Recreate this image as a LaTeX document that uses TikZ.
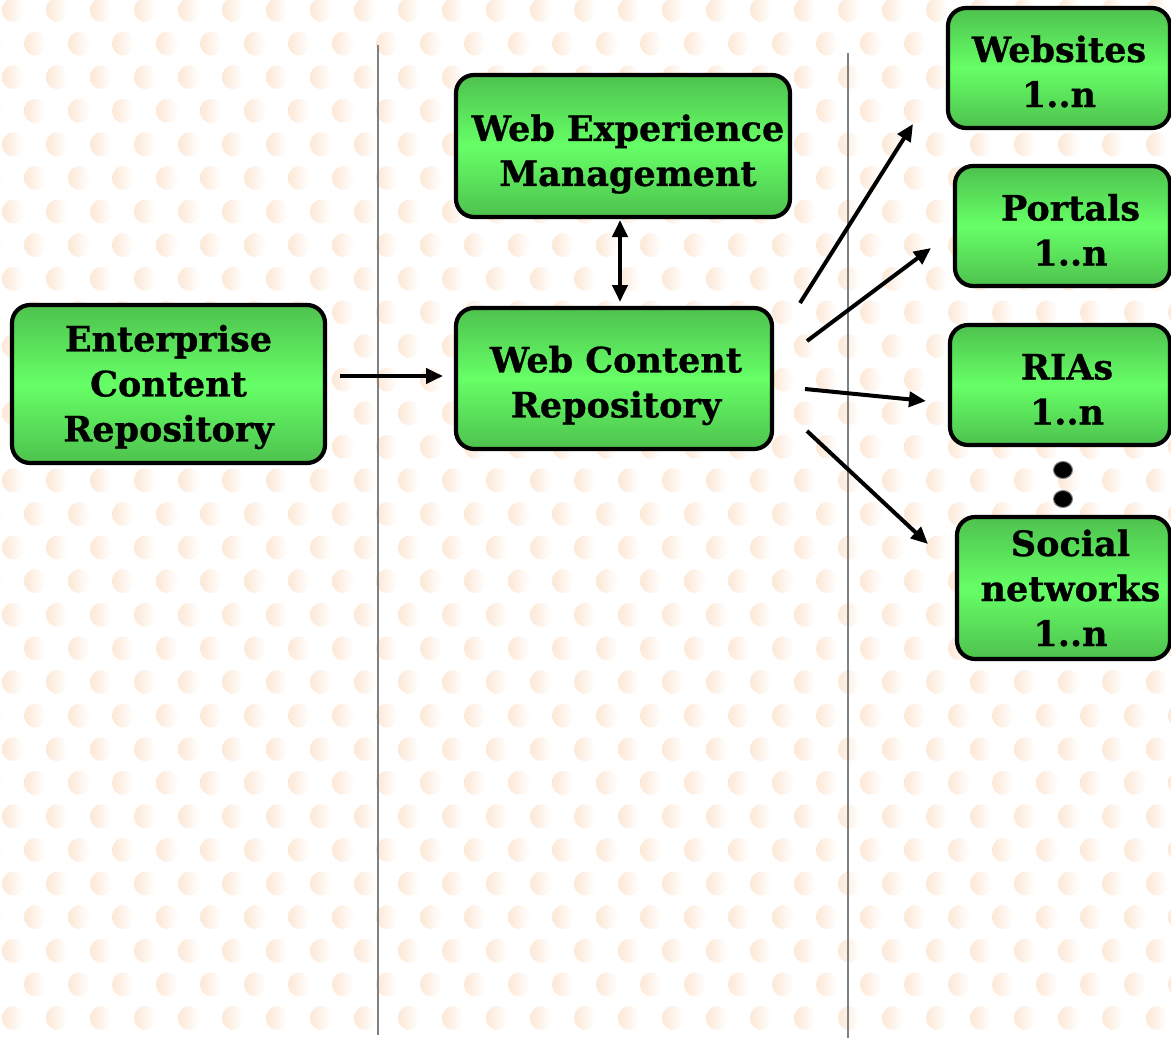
\documentclass[tikz,border=0pt]{standalone}
\usepackage{fontspec}
\setmainfont{DejaVu Serif}[BoldFeatures={FakeBold=0.8}]
\usetikzlibrary{arrows.meta,shapes.geometric}
\definecolor{dotc}{RGB}{253,232,214}
\definecolor{gedge}{RGB}{78,194,78}
\definecolor{gmid}{RGB}{102,255,102}
\definecolor{sepline}{RGB}{128,128,128}
\tikzset{
  box/.style={draw=black, line width=4.2pt, rounded corners=18pt,
    top color=gedge, bottom color=gedge, middle color=gmid, inner sep=0pt},
  txt/.style={align=center, inner sep=0pt, text=black,
    font=\fontsize{35}{45}\selectfont\bfseries},
  conn/.style={line width=4pt, -{Triangle[length=17pt,width=15pt]}},
  dconn/.style={line width=4pt, {Triangle[length=17pt,width=15pt]}-{Triangle[length=17pt,width=15pt]}},
  sep/.style={draw=sepline, line width=1.5pt},
  ell/.style={ellipse, fill=black, draw=sepline, line width=1pt,
    minimum width=19pt, minimum height=17pt, inner sep=0pt}
}
\begin{document}
\begin{tikzpicture}[x=1pt,y=-1pt]
\useasboundingbox (0,0) rectangle (1171,1038);
\fill[white] (0,0) rectangle (1171,1038);
\begin{scope}
\clip (0,0) rectangle (1171,1038);
\foreach \r in {0,...,31}{
  \foreach \c in {-1,...,27}{
    \pgfmathsetmacro{\xx}{13+44*\c+22*mod(\r,2)}
    \pgfmathsetmacro{\yy}{10+33.6*\r}
    \shade[left color=dotc, right color=white] (\xx,\yy) ellipse (11 and 12);
  }
}
\end{scope}

% separator lines
\coordinate (s1t) at (378,45);
\coordinate (s1b) at (378,1035);
\coordinate (s2t) at (848,53);
\coordinate (s2b) at (848,1038);
\draw[sep] (s1t) -- (s1b);
\draw[sep] (s2t) -- (s2b);

% boxes
\node[box, minimum width=313pt, minimum height=158pt,
  label={[txt, yshift=-3pt]center:Enterprise\\Content\\Repository}] (ecr) at (168.5,384) {};
\node[box, minimum width=334pt, minimum height=142pt,
  label={[txt, xshift=5pt, yshift=-8pt]center:Web Experience\\Management}] (wem) at (623,146) {};
\node[box, minimum width=316pt, minimum height=141pt,
  label={[txt, xshift=2pt, yshift=-7pt]center:Web Content\\Repository}] (wcr) at (614,378.5) {};
\node[box, minimum width=222pt, minimum height=120pt,
  label={[txt, yshift=-3.5pt]center:Websites\\1..n}] (web) at (1059,68) {};
\node[box, minimum width=215pt, minimum height=120pt,
  label={[txt, xshift=8pt, yshift=-4pt]center:Portals\\1..n}] (por) at (1062.5,226) {};
\node[box, minimum width=220pt, minimum height=120pt,
  label={[txt, xshift=7pt, yshift=-4.5pt]center:RIAs\\1..n}] (ria) at (1060,385) {};
\node[box, minimum width=213pt, minimum height=142pt,
  label={[txt, xshift=7pt, yshift=0pt]center:Social\\networks\\1..n}] (soc) at (1063.5,588) {};

% dots between RIAs and Social networks
\node[ell] (d1) at (1063,470) {};
\node[ell] (d2) at (1063,499) {};

% connector end points
\coordinate (e1) at (340,376);
\coordinate (e2) at (443,376);
\coordinate (u1) at (620,220);
\coordinate (u2) at (620,302);
\coordinate (o1) at (800,303);
\coordinate (t1) at (913,124);
\coordinate (o2) at (807,341);
\coordinate (t2) at (931,248);
\coordinate (o3) at (805,389);
\coordinate (t3) at (926,401);
\coordinate (o4) at (807,431);
\coordinate (t4) at (928,544);

\draw[conn] (e1) -- (e2);
\draw[dconn] (u1) -- (u2);
\draw[conn] (o1) -- (t1);
\draw[conn] (o2) -- (t2);
\draw[conn] (o3) -- (t3);
\draw[conn] (o4) -- (t4);
\end{tikzpicture}
\end{document}
